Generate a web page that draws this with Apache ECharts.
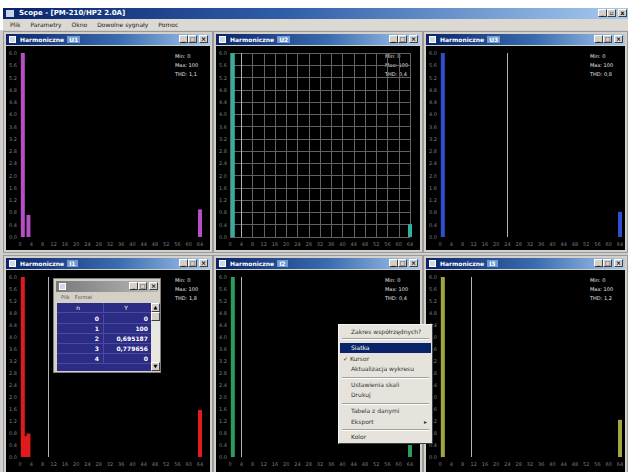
<!DOCTYPE html>
<html><head><meta charset="utf-8">
<script src="https://cdn.jsdelivr.net/npm/echarts@6/dist/echarts.min.js"></script>
<style>
html,body{margin:0;padding:0;width:628px;height:472px;overflow:hidden;background:#fff;font-family:"DejaVu Sans",Arial,sans-serif;}
.abs{position:absolute;box-sizing:border-box;}
#appbar{left:3px;top:8px;width:625px;height:11px;background:linear-gradient(to right,#0a246a,#2f5ea8 45%,#a6caf0);color:#fff;font-size:7px;font-weight:bold;line-height:11px;padding-left:16px;white-space:nowrap;}
#menubar{left:3px;top:19px;width:625px;height:11px;background:#dcd9d2;font-size:6px;line-height:11px;color:#222;white-space:nowrap;}
#menubar span{margin-left:7px;margin-right:3px;}
#mdi{left:0;top:30px;width:628px;height:442px;background:#cfcfcf;}
.win{border:1px solid #9a9a9a;background:#d4d0c8;}
.tbar{left:2px;top:2px;right:2px;height:11px;background:linear-gradient(to right,#0a246a,#3a6cb0 55%,#a6caf0);color:#fff;font-size:6px;font-weight:bold;line-height:11px;padding-left:14px;white-space:nowrap;overflow:hidden;}
.tbar.off{background:linear-gradient(to right,#7a7a7a,#b8b8b8);}
.tbar .ic{position:absolute;left:3px;top:2px;width:7px;height:7px;background:#cfd8e8;border:1px solid #fff;box-sizing:border-box;}
.tbar .nm{background:#6f9ad4;padding:0 2px;margin-left:3px;}
.btn{position:absolute;top:1px;width:9px;height:8px;background:#d4d0c8;border:1px solid;border-color:#fff #404040 #404040 #fff;box-sizing:border-box;color:#000;font-size:6px;line-height:6px;text-align:center;font-weight:bold;}
.content{left:2px;top:14px;right:2px;bottom:2px;background:#000;}
#chart{left:0;top:0;width:628px;height:472px;z-index:5;}
#tablewin{left:53px;top:278px;width:108px;height:95px;z-index:8;border:1px solid #808080;background:#d4d0c8;}
#tablewin .menu{left:2px;top:13px;width:100px;height:10px;font-size:5px;line-height:10px;color:#555;}
#tablewin .menu span{margin-left:5px;}
#tbl{left:3px;top:24px;width:94px;height:68px;background:#2c2c84;overflow:hidden;}
.row{position:absolute;left:0;width:94px;height:10px;font-size:6px;line-height:10px;color:#fff;font-weight:bold;border-bottom:1px solid #4a4aa0;box-sizing:border-box;}
.c1{position:absolute;left:0;width:44px;text-align:right;}
.c2{position:absolute;left:46px;width:46px;text-align:right;border-left:1px solid #4a4aa0;}
.hdr .c1,.hdr .c2{text-align:center;font-weight:normal;}
#scroll{left:97px;top:24px;width:9px;height:68px;background:#e8e6e0;}
#scroll div{position:absolute;left:0;width:9px;height:9px;background:#d4d0c8;border:1px solid;border-color:#fff #404040 #404040 #fff;box-sizing:border-box;font-size:5px;line-height:7px;text-align:center;color:#000;}
#ctx{left:338px;top:324px;width:95px;height:120px;z-index:9;background:#e6e3dc;border:1px solid;border-color:#f4f4f4 #404040 #404040 #f4f4f4;}
.mi{position:absolute;left:1px;width:91px;height:10px;font-size:6px;line-height:10px;color:#333;padding-left:11px;box-sizing:border-box;white-space:nowrap;}
.mi.sel{background:#0a246a;color:#fff;}
.sep{position:absolute;left:3px;width:87px;height:0;border-top:1px solid #a0a0a0;border-bottom:1px solid #fff;}
</style></head>
<body>
<div id="appbar" class="abs"></div>
<div id="menubar" class="abs"></div>
<div id="mdi" class="abs"></div>
<div id="chart" class="abs"></div>
<div id="tablewin" class="abs"></div>
<div id="ctx" class="abs"></div>
<script>
// ---- data ----
const appTitle = 'Scope - [PM-210/HP2 2.0A]';
const menuNames = ['Plik', 'Parametry', 'Okno', 'Dowolne sygnały', 'Pomoc'];
const panelNames = ['U1', 'U2', 'U3', 'I1', 'I2', 'I3'];
const xMax = 64, xStep = 4;          // harmonic axis ticks 0,4,...,64
const yMax = 6, yStep = 0.4;         // amplitude axis ticks 0.0 .. 6.0
const harmU1 = [[1, 100], [3, 0.72], [64, 0.9]];
const harmU2 = [[1, 100], [64, 0.42]];
const harmU3 = [[1, 100], [64, 0.82]];
const harmI1 = [[0, 0], [1, 100], [2, 0.695187], [3, 0.779656], [4, 0], [64, 1.57]];
const harmI2 = [[1, 100], [64, 0.4]];
const harmI3 = [[1, 100], [64, 1.24]];
const cursorAt = [null, 4, 24, 10, 4, 11];
const legendNames = ['Min:', 'Max:', 'THD:'];
const legendValues = [['0', '100', '1,1'], ['0', '100', '0,4'], ['0', '100', '0,8'],
                      ['0', '100', '1,8'], ['0', '100', '0,4'], ['0', '100', '1,2']];
const tableMenu = ['Plik', 'Format'];
const tableHeader = ['n', 'Y'];
const ctxItems = ['Zakres współrzędnych?', '-', 'Siatka', '✓ Kursor', 'Aktualizacja wykresu', '-',
                  'Ustawienia skali', 'Drukuj', '-', 'Tabela z danymi', 'Eksport', '-', 'Kolor'];

const series = [harmU1, harmU2, harmU3, harmI1, harmI2, harmI3];
const barColors = ['#b64ec6', '#34ae9e', '#2f4fd2', '#e01b1b', '#2a9c5c', '#a2a63e'];
const showGrid = [false, true, false, false, false, false];

// ---- window chrome ----
document.getElementById('appbar').textContent = appTitle;
(function(){
  const ab = document.getElementById('appbar');
  const ic = document.createElement('div');
  ic.style.cssText = 'position:absolute;left:3px;top:2px;width:8px;height:7px;background:#c8d4e8;';
  ab.appendChild(ic);
  ['_', '▫', 'x'].forEach((g, k) => {
    const b = document.createElement('div'); b.className = 'btn'; b.textContent = g;
    b.style.left = (595 + k * 9 + (k === 2 ? 2 : 0)) + 'px'; ab.appendChild(b);
  });
  const mb = document.getElementById('menubar');
  menuNames.forEach(m => { const s = document.createElement('span'); s.textContent = m; mb.appendChild(s); });
})();

const wins = [
  {x: 3, y: 31, w: 210, h: 222}, {x: 213, y: 31, w: 210, h: 222}, {x: 423, y: 31, w: 205, h: 222},
  {x: 3, y: 255, w: 210, h: 222}, {x: 213, y: 255, w: 210, h: 222}, {x: 423, y: 255, w: 205, h: 222}];

function makeTitleBar(parent, label, off) {
  const t = document.createElement('div'); t.className = 'abs tbar' + (off ? ' off' : '');
  const ic = document.createElement('div'); ic.className = 'ic'; t.appendChild(ic);
  t.appendChild(document.createTextNode(label));
  parent.appendChild(t);
  return t;
}
function addButtons(t, w) {
  ['_', '□', '×'].forEach((g, k) => {
    const b = document.createElement('div'); b.className = 'btn'; b.textContent = g;
    b.style.left = (w - 31 + k * 9 + (k === 2 ? 2 : 0)) + 'px'; t.appendChild(b);
  });
}
const mdi = document.body;
wins.forEach((wn, i) => {
  const d = document.createElement('div'); d.className = 'abs win';
  d.style.cssText = `left:${wn.x}px;top:${wn.y}px;width:${wn.w}px;height:${wn.h}px;z-index:2;`;
  const t = makeTitleBar(d, 'Harmoniczne', false);
  const nm = document.createElement('span'); nm.className = 'nm'; nm.textContent = panelNames[i]; t.appendChild(nm);
  addButtons(t, wn.w - 6);
  const c = document.createElement('div'); c.className = 'abs content'; d.appendChild(c);
  mdi.appendChild(d);
});

// ---- table window (data of I1) ----
(function(){
  const tw = document.getElementById('tablewin');
  const t = makeTitleBar(tw, '', true);
  addButtons(t, 104);
  const m = document.createElement('div'); m.className = 'abs menu';
  tableMenu.forEach(x => { const s = document.createElement('span'); s.textContent = x; m.appendChild(s); });
  tw.appendChild(m);
  const tb = document.createElement('div'); tb.id = 'tbl'; tb.className = 'abs';
  const rows = [tableHeader].concat(harmI1.slice(0, 5).map(p => [String(p[0]), String(p[1]).replace('.', ',')]));
  rows.forEach((r, k) => {
    const rw = document.createElement('div'); rw.className = 'row' + (k === 0 ? ' hdr' : '');
    rw.style.top = (k * 10 + (k ? 1 : 0)) + 'px';
    rw.innerHTML = `<span class="c1">${r[0]}&nbsp;</span><span class="c2">${r[1]}&nbsp;</span>`;
    tb.appendChild(rw);
  });
  tw.appendChild(tb);
  const sc = document.createElement('div'); sc.id = 'scroll'; sc.className = 'abs';
  sc.innerHTML = '<div style="top:0">▲</div><div style="top:9px">&nbsp;</div><div style="bottom:0">▼</div>';
  tw.appendChild(sc);
})();

// ---- context menu ----
(function(){
  const cm = document.getElementById('ctx');
  const tops = [2, 13, 18, 29, 39, 52, 55, 65, 78, 81, 92, 104, 107];
  ctxItems.forEach((txt, k) => {
    if (txt === '-') {
      const s = document.createElement('div'); s.className = 'sep'; s.style.top = tops[k] + 'px'; cm.appendChild(s);
    } else {
      const it = document.createElement('div'); it.className = 'mi' + (txt === 'Siatka' ? ' sel' : '');
      it.style.top = tops[k] + 'px';
      if (txt.startsWith('✓')) { it.style.paddingLeft = '3px'; }
      it.textContent = txt;
      if (txt === 'Eksport') { const a = document.createElement('span'); a.textContent = '▸'; a.style.cssText = 'position:absolute;right:4px;'; it.appendChild(a); }
      cm.appendChild(it);
    }
  });
})();

// ---- charts ----
const chart = echarts.init(document.getElementById('chart'), null, {renderer: 'svg'});
const grids = [], xAxes = [], yAxes = [], ser = [], graphics = [];
wins.forEach((wn, i) => {
  const top = wn.y + 22, h = i < 3 ? 184 : 180, left = wn.x + 17;
  grids.push({left: left, top: top, width: 180, height: h});
  xAxes.push({type: 'value', gridIndex: i, min: 0, max: xMax, interval: xStep,
    axisLine: {show: false}, axisTick: {show: false},
    axisLabel: {fontSize: 5, color: '#7c7c7c', margin: 4, fontFamily: 'DejaVu Sans'},
    splitLine: {show: showGrid[i], lineStyle: {color: '#626262', width: 1}}});
  yAxes.push({type: 'value', gridIndex: i, min: 0, max: yMax, interval: yStep,
    axisLine: {show: false}, axisTick: {show: false},
    axisLabel: {fontSize: 5, color: '#76827a', margin: 3, fontFamily: 'DejaVu Sans', formatter: v => v.toFixed(1)},
    splitLine: {show: showGrid[i], lineStyle: {color: '#626262', width: 1}}});
  const s = {type: 'bar', xAxisIndex: i, yAxisIndex: i, data: series[i], barWidth: 4, clip: true,
    itemStyle: {color: barColors[i]}, silent: true};
  if (cursorAt[i] !== null) {
    s.markLine = {symbol: 'none', silent: true, label: {show: false}, animation: false,
      lineStyle: {color: '#b4b4b4', type: 'solid', width: 1}, data: [{xAxis: cursorAt[i]}]};
  }
  ser.push(s);
  legendNames.forEach((ln, k) => {
    graphics.push({type: 'text', left: wn.x + wn.w - 38, top: top + k * 9,
      style: {text: ln + ' ' + legendValues[i][k], fill: '#e4e4e4', fontSize: 5, fontFamily: 'DejaVu Sans'}});
  });
});
chart.setOption({animation: false, backgroundColor: 'transparent', grid: grids, xAxis: xAxes, yAxis: yAxes,
  series: ser, graphic: graphics});
</script>
</body></html>
